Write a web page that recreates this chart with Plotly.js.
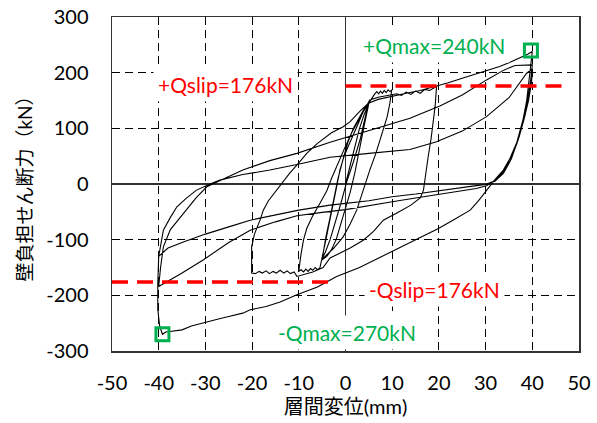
<!DOCTYPE html>
<html><head><meta charset="utf-8">
<script src="https://cdn.plot.ly/plotly-3.0.1.min.js"></script>
<style>html,body{margin:0;padding:0;background:#fff}#chart{width:597px;height:423px}</style>
</head><body><div id="chart"></div>
<script>
// ---- hysteresis branches (displacement mm, shear kN) ----
const c5LoadX = [0,1,2,3,4,5];
const c5LoadY = [0,35,70,100,125,145];
const c5UnlX = [5,4,3,2,1,0,-1,-2,-3,-4,-5];
const c5UnlY = [145,105,60,20,-15,-45,-75,-100,-118,-130,-136];
const c5RelX = [-5,-4.2,-3.3,-2.5,-1.6,-0.5,0.5,1.7,3,4,4.9];
const c5RelY = [-136,-95,-60,-25,10,45,75,100,120,135,145];
const c5Unl2X = [4.9,3.1,1.7,0.3,-1,-2.2,-3.3,-4.3,-5.1];
const c5Unl2Y = [145,79,40,5,-35,-70,-100,-122,-136];
const c5Rel2X = [-5.1,-4.2,-3.3,-2.6,-1.9,-1.2,-0.3,0.8,1.7,2.8,3.8,4.9];
const c5Rel2Y = [-136,-100,-65,-35,-5,25,50,72,88,110,130,145];
const p10X = [4.9,5.3,5.8,6.2,6.7,7.1,7.5,7.9,8.3,8.7,9.1,9.5,9.9];
const p10Y = [145,150,157,161,166,162,167,163,168,164,169,166,169];
const u10X = [9.9,9.5,8.9,8,7.1,6.5,5.2,3.8,2.4,1,-0.5,-2.5,-4,-5.1];
const u10Y = [169,145,120,95,70,55,25,-10,-47,-72,-95,-115,-128,-136];
const n10X = [-5.1,-5.5,-6,-6.5,-7,-7.5,-8,-8.5,-9,-9.5,-10];
const n10Y = [-136,-151,-154,-150,-155,-152,-157,-153,-158,-154,-157];
const r10X = [-10,-9.6,-9,-8.3,-7.2,-5.5,-4,-3,-1.5,0,1.5,3,4.3,5.2,7,9.5,11,12,13,14,15,16,17,18,19,19.5];
const r10Y = [-157,-130,-101,-80,-60,-35,-12,10,40,68,95,118,138,151,156,160,162,159,165,161,167,163,170,168,172,175];
const u20X = [19.5,19.2,18.8,18.3,17.7,17.2,16.7,16,14,11,8.1,6,3.8,1,-1.5,-3.3,-4.8,-7,-10.4];
const u20Y = [175,140,109,80,49,20,-11,-25,-38,-52,-65,-85,-101,-115,-125,-133,-150,-158,-166];
const n20X = [-10.4,-11,-11.8,-12.5,-13.2,-14,-14.8,-15.5,-16.3,-17,-17.8,-18.5,-19.3,-20.1];
const n20Y = [-166,-158,-161,-156,-160,-155,-160,-157,-161,-156,-160,-157,-161,-160];
const r20X = [-20.1,-20.1,-19.5,-18.3,-17.6,-16.5,-14.7,-13.3,-11.9,-10,-8.3,-6,-3,-0.5,1,3,4.9,7,10,13,16,19.5,22,25,28,30.2,33,35,37,39,40];
const r20Y = [-160,-113,-90,-65,-47,-30,-10,5,20,38,55,73,92,103,112,130,145,152,158,163,168,176,182,190,198,203,211,218,225,233,238];
const u40aX = [40,39.7,39.3,38.8,38,36.7,35,33.8,32,30.2,28,24,20,15,10,5,0,-5,-10.4,-15,-20.4,-25,-30.4,-35,-40];
const u40aY = [238,215,185,150,115,75,42,22,7,-3,-8,-13,-18,-25,-32,-39,-46,-51,-57,-68,-83,-105,-136,-160,-184];
const r40aX = [-40,-39.6,-39,-37.5,-34.7,-32,-29.7,-26.2,-22,-16.2,-10.4,-3.3,4.5,13.8,20.2,25,30.2,34,36.3,38,40];
const r40aY = [-184,-150,-113,-82,-53,-25,-5,8,25,42,55,75,95,118,140,160,187,205,213,214,214];
const u40bX = [40,39.7,39.2,38.5,37.2,35.5,33.8,32,30,28,24,20,15,10,5,0,-3.3,-10,-15,-20.4,-25,-30,-35,-38,-40];
const u40bY = [214,190,160,125,85,45,20,6,-1,-3,-8,-12,-18,-23,-30,-35,-38,-47,-55,-65,-77,-90,-105,-115,-130];
const r40bX = [-40,-39.5,-39,-37.5,-36.1,-34,-31.9,-29,-26.9,-22,-16.2,-10.4,-3.3,5,13.8,19.5,25,30.2,35,38.8,40];
const r40bY = [-130,-105,-83,-60,-41,-25,-11,0,7,17,25,35,48,55,62,76,95,121,155,199,207];
const u40cX = [40,39.6,39,38,36.8,35.2,33.8,32,30,28,24,20,15,10,5,0,-3.3,-10,-15,-20.4,-25,-30,-35,-38,-40,-40.2,-40.2,-39.8,-39.2];
const u40cY = [207,182,150,112,75,40,19,5,-1,-3,-8,-12,-18,-23,-30,-35,-38,-47,-55,-65,-77,-90,-105,-115,-130,-180,-225,-255,-270];
const rFinX = [-39.2,-38.5,-37.6,-35,-33,-30,-27,-25,-22,-20.4,-17,-14,-10.4,-6,-1.9,3,9.9,15,19.9,23,26.7,28.5,30.2,32,33.8,35.5,37,38.2,39.2,39.8,40];
const rFinY = [-270,-266,-265,-262,-255,-248,-242,-238,-232,-226,-220,-212,-199,-185,-166,-150,-121,-100,-80,-65,-47,-30,-11,8,25,50,80,115,150,180,200];

const curveX = [].concat(c5LoadX,c5UnlX,c5RelX,c5Unl2X,c5Rel2X,p10X,u10X,n10X,r10X,u20X,n20X,r20X,u40aX,r40aX,u40bX,r40bX,u40cX,rFinX);
const curveY = [].concat(c5LoadY,c5UnlY,c5RelY,c5Unl2Y,c5Rel2Y,p10Y,u10Y,n10Y,r10Y,u20Y,n20Y,r20Y,u40aY,r40aY,u40bY,r40bY,u40cY,rFinY);

// slip load lines and max points
const slipPosX = [0, 48];
const slipPosY = [176, 176];
const slipNegX = [-50, -2];
const slipNegY = [-176, -176];
const qmaxX = [39.7, -39.2];
const qmaxY = [240, -270];

const labels = ['+Qslip=176kN', '+Qmax=240kN', '-Qslip=176kN', '-Qmax=270kN'];
const xTicks = [-50,-40,-30,-20,-10,0,10,20,30,40,50];
const yTicks = [-300,-200,-100,0,100,200,300];

const RED = '#FF0000', GREEN = '#00B050';
const FONT = 'Lato, "Noto Sans CJK JP", sans-serif';

const traces = [
  {x: curveX, y: curveY, mode: 'lines', line: {color: '#000', width: 1.1}, hoverinfo: 'skip'},
  {x: slipPosX, y: slipPosY, mode: 'lines', line: {color: RED, width: 3.5, dash: '16px,9px'}},
  {x: slipNegX, y: slipNegY, mode: 'lines', line: {color: RED, width: 3.5, dash: '16px,9px'}},
  {x: qmaxX, y: qmaxY, mode: 'markers', marker: {symbol: 'square-open', size: 13, color: GREEN, line: {width: 3, color: GREEN}}}
];

const axCommon = {
  showline: true, mirror: true, linecolor: '#333', linewidth: 1.5,
  showgrid: true, gridcolor: '#000', gridwidth: 1, griddash: '8px,5px',
  zeroline: true, zerolinecolor: '#333', zerolinewidth: 1.5,
  ticks: '', tickfont: {family: FONT, size: 20, color: '#000'}
};

const annFont = (c) => ({family: FONT, size: 21, color: c});

const layout = {
  width: 597, height: 423,
  margin: {l: 112, r: 18, t: 17, b: 72},
  paper_bgcolor: '#fff', plot_bgcolor: '#fff',
  showlegend: false,
  font: {family: FONT, color: '#000'},
  xaxis: Object.assign({}, axCommon, {
    range: [-50, 50], tickvals: xTicks, ticktext: xTicks.map(String),
    ticklabelstandoff: 13,
    title: {text: '層間変位(mm)', font: {family: FONT, size: 20, color: '#000'}, standoff: 6}
  }),
  yaxis: Object.assign({}, axCommon, {
    range: [-300, 300], tickvals: yTicks, ticktext: yTicks.map(String),
    ticklabelstandoff: 18,
    title: {text: '壁負担せん断力（kN）', font: {family: FONT, size: 19, color: '#000'}, standoff: 8}
  }),
  annotations: [
    {x: -25.8, y: 178, xref: 'x', yref: 'y', text: labels[0], showarrow: false, font: annFont(RED), bgcolor: '#fff', borderpad: 4},
    {x: 19, y: 248, xref: 'x', yref: 'y', text: labels[1], showarrow: false, font: annFont(GREEN), bgcolor: '#fff', borderpad: 4},
    {x: 19, y: -190, xref: 'x', yref: 'y', text: labels[2], showarrow: false, font: annFont(RED), bgcolor: '#fff', borderpad: 4},
    {x: 0.3, y: -266, xref: 'x', yref: 'y', text: labels[3], showarrow: false, font: annFont(GREEN), bgcolor: '#fff', borderpad: 4}
  ]
};

Plotly.newPlot('chart', traces, layout, {staticPlot: true, displayModeBar: false});
</script></body></html>
